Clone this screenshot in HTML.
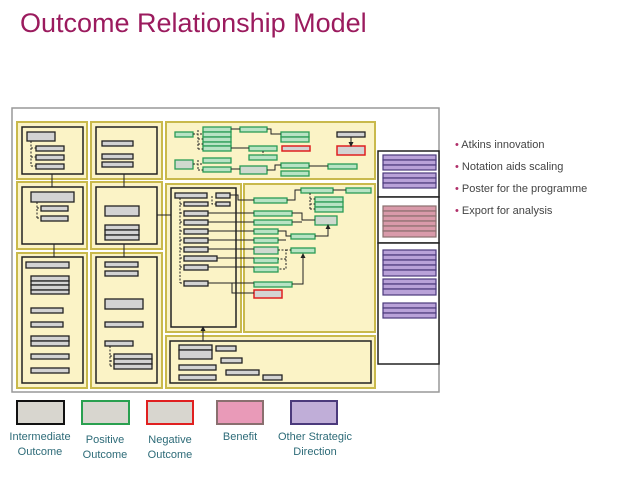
<!DOCTYPE html>
<html><head><meta charset="utf-8"><style>
body{margin:0;background:#fff;width:638px;height:479px;overflow:hidden;font-family:"Liberation Sans",sans-serif}
.t{position:absolute;left:20px;top:8px;font-size:27px;color:#9b1b5e}
.b{position:absolute;left:455px;font-size:11px;color:#444}
.b span{color:#b0306a}
.l{position:absolute;font-size:11px;color:#2d6b78;text-align:center;line-height:15px}
svg{position:absolute;left:0;top:0}
.y{fill:#fbf3c6;stroke:#c9b94c;stroke-width:2}
.k{fill:#fbf3c6;stroke:#222;stroke-width:1.5}
.g{fill:#d3d3d3;stroke:#222;stroke-width:1.3}
.n{fill:#b8e3c4;stroke:#2a9c55;stroke-width:1.3}
.ng{fill:#cfd9cf;stroke:#2a9c55;stroke-width:1.3}
.r{fill:#d3d3d3;stroke:#e02020;stroke-width:1.5}
.p{fill:#b9a2d8;stroke:#4b3a7c;stroke-width:1.2}
.q{fill:#d99aaa;stroke:#8a6f6f;stroke-width:1.2}
.c{stroke:#222;stroke-width:1;fill:none}
.d{stroke:#222;stroke-width:1;fill:none;stroke-dasharray:2,1.5}
</style></head><body>
<div class="t">Outcome Relationship Model</div>
<div class="b" style="top:139px"><span>•</span> Atkins innovation</div>
<div class="b" style="top:161px"><span>•</span> Notation aids scaling</div>
<div class="b" style="top:183px"><span>•</span> Poster for the programme</div>
<div class="b" style="top:205px"><span>•</span> Export for analysis</div>
<div class="l" style="left:0;width:80px;top:430px">Intermediate<br>Outcome</div>
<div class="l" style="left:70px;width:70px;top:433px">Positive<br>Outcome</div>
<div class="l" style="left:135px;width:70px;top:433px">Negative<br>Outcome</div>
<div class="l" style="left:205px;width:70px;top:430px">Benefit</div>
<div class="l" style="left:265px;width:100px;top:430px">Other Strategic<br>Direction</div>
<svg width="638" height="479" viewBox="0 0 638 479">
<defs><marker id="a" markerWidth="5" markerHeight="5" refX="4" refY="2.5" orient="auto"><path d="M0,0L5,2.5L0,5z" fill="#222"/></marker></defs>
<rect x="12" y="108" width="427" height="284" fill="#fff" stroke="#999" stroke-width="1.5"/>
<rect class="y" x="17" y="122" width="70" height="57"/>
<rect class="y" x="91" y="122" width="71" height="57"/>
<rect class="y" x="17" y="182" width="70" height="67"/>
<rect class="y" x="91" y="182" width="71" height="67"/>
<rect class="y" x="17" y="253" width="70" height="135"/>
<rect class="y" x="91" y="253" width="71" height="135"/>
<rect class="y" x="166" y="122" width="209" height="57"/>
<rect class="y" x="166" y="184" width="75" height="148"/>
<rect class="y" x="244" y="184" width="131" height="148"/>
<rect class="y" x="166" y="336" width="209" height="52"/>
<rect class="k" x="22" y="127" width="61" height="47"/>
<rect class="k" x="96" y="127" width="61" height="47"/>
<rect class="k" x="22" y="187" width="61" height="57"/>
<rect class="k" x="96" y="187" width="61" height="57"/>
<rect class="k" x="22" y="257" width="61" height="126"/>
<rect class="k" x="96" y="257" width="61" height="126"/>
<rect class="k" x="171" y="188" width="65" height="139"/>
<rect class="k" x="170" y="341" width="201" height="42"/>
<rect x="378" y="151" width="61" height="46" fill="#fff" stroke="#222" stroke-width="1.5"/>
<rect x="378" y="197" width="61" height="46" fill="#fff" stroke="#222" stroke-width="1.5"/>
<rect x="378" y="243" width="61" height="121" fill="#fff" stroke="#222" stroke-width="1.5"/>
<g class="p">
<rect x="383" y="155" width="53" height="5"/><rect x="383" y="160" width="53" height="5"/><rect x="383" y="165" width="53" height="5"/>
<rect x="383" y="173" width="53" height="5"/><rect x="383" y="178" width="53" height="5"/><rect x="383" y="183" width="53" height="5"/>
<rect x="383" y="250" width="53" height="5"/><rect x="383" y="255" width="53" height="5"/><rect x="383" y="260" width="53" height="5"/><rect x="383" y="265" width="53" height="5"/><rect x="383" y="270" width="53" height="6"/>
<rect x="383" y="279" width="53" height="5"/><rect x="383" y="284" width="53" height="5"/><rect x="383" y="289" width="53" height="6"/>
<rect x="383" y="303" width="53" height="5"/><rect x="383" y="308" width="53" height="5"/><rect x="383" y="313" width="53" height="5"/>
</g>
<g class="q">
<rect x="383" y="206" width="53" height="5"/><rect x="383" y="211" width="53" height="5"/><rect x="383" y="216" width="53" height="5"/><rect x="383" y="221" width="53" height="5"/><rect x="383" y="226" width="53" height="5"/><rect x="383" y="231" width="53" height="6"/>
</g>
<g class="g">
<rect x="27" y="132" width="28" height="9"/><rect x="36" y="146" width="28" height="5"/><rect x="36" y="155" width="28" height="5"/><rect x="36" y="164" width="28" height="5"/>
<rect x="102" y="141" width="31" height="5"/><rect x="102" y="154" width="31" height="5"/><rect x="102" y="162" width="31" height="5"/>
<rect x="31" y="192" width="43" height="10"/><rect x="41" y="206" width="27" height="5"/><rect x="41" y="216" width="27" height="5"/>
<rect x="105" y="206" width="34" height="10"/><rect x="105" y="225" width="34" height="5"/><rect x="105" y="230" width="34" height="5"/><rect x="105" y="235" width="34" height="5"/>
<rect x="26" y="262" width="43" height="6"/>
<rect x="31" y="276" width="38" height="5"/><rect x="31" y="281" width="38" height="4"/><rect x="31" y="285" width="38" height="5"/><rect x="31" y="290" width="38" height="4"/>
<rect x="31" y="308" width="32" height="5"/><rect x="31" y="322" width="32" height="5"/>
<rect x="31" y="336" width="38" height="5"/><rect x="31" y="341" width="38" height="5"/>
<rect x="31" y="354" width="38" height="5"/><rect x="31" y="368" width="38" height="5"/>
<rect x="105" y="262" width="33" height="5"/><rect x="105" y="271" width="33" height="5"/>
<rect x="105" y="299" width="38" height="10"/><rect x="105" y="322" width="38" height="5"/>
<rect x="105" y="341" width="28" height="5"/>
<rect x="114" y="354" width="38" height="5"/><rect x="114" y="359" width="38" height="5"/><rect x="114" y="364" width="38" height="5"/>
</g>
<path class="d" d="M31,141V166M31,148H36M31,157H36M31,166H36M37,202V218M37,208H41M37,218H41M110,346V366M110,356H114M110,361H114M110,366H114"/>
<path class="c" marker-end="url(#a)" d="M52,174V187M124,174V187M54,257V244M124,257V244M157,215H171M203,341V327"/>
<g class="n">
<rect x="175" y="132" width="18" height="5"/>
<rect x="203" y="127" width="28" height="5"/><rect x="203" y="132" width="28" height="5"/><rect x="203" y="137" width="28" height="5"/><rect x="203" y="142" width="28" height="4"/><rect x="203" y="146" width="28" height="5"/>
<rect x="240" y="127" width="27" height="5"/>
<rect x="281" y="132" width="28" height="5"/><rect x="281" y="137" width="28" height="5"/>
<rect x="249" y="146" width="28" height="5"/><rect x="249" y="155" width="28" height="5"/>
<rect x="203" y="158" width="28" height="5"/><rect x="203" y="167" width="28" height="5"/>
<rect x="281" y="163" width="28" height="5"/><rect x="281" y="171" width="28" height="5"/>
<rect x="328" y="164" width="29" height="5"/>
</g>
<rect class="ng" x="175" y="160" width="18" height="9"/>
<rect class="ng" x="240" y="166" width="27" height="8"/>
<rect class="r" x="282" y="146" width="28" height="5" fill="#d8c8c8"/>
<rect class="g" x="337" y="132" width="28" height="5"/>
<rect class="r" x="337" y="146" width="28" height="9"/>
<path class="d" d="M198,130V149M193,134H203M198,139H203M198,144H203M198,149H203M198,160V170M193,164H203M198,170H203M263,151V155"/>
<path class="c" marker-end="url(#a)" d="M231,129H240M267,129H271V134H281M231,148H249M231,169H240M267,170H275V165H281M309,166H328M351,137V146"/>
<g class="g">
<rect x="175" y="193" width="32" height="5"/><rect x="216" y="193" width="14" height="5"/>
<rect x="184" y="202" width="24" height="4"/><rect x="216" y="202" width="14" height="4"/>
<rect x="184" y="211" width="24" height="5"/><rect x="184" y="220" width="24" height="5"/><rect x="184" y="229" width="24" height="5"/><rect x="184" y="238" width="24" height="5"/><rect x="184" y="247" width="24" height="5"/><rect x="184" y="256" width="33" height="5"/><rect x="184" y="265" width="24" height="5"/><rect x="184" y="281" width="24" height="5"/>
</g>
<path class="d" d="M180,198V283M180,204H184M180,213H184M180,222H184M180,231H184M180,240H184M180,249H184M180,258H184M180,267H184M180,283H184M212,196V204H216"/>
<g class="n">
<rect x="254" y="198" width="33" height="5"/><rect x="301" y="188" width="32" height="5"/><rect x="346" y="188" width="25" height="5"/>
<rect x="315" y="197" width="28" height="5"/><rect x="315" y="202" width="28" height="5"/><rect x="315" y="207" width="28" height="5"/>
<rect x="254" y="211" width="38" height="5"/><rect x="254" y="220" width="38" height="5"/>
<rect x="254" y="229" width="24" height="5"/><rect x="254" y="238" width="24" height="5"/>
<rect x="291" y="234" width="24" height="5"/><rect x="291" y="248" width="24" height="5"/>
<rect x="254" y="258" width="24" height="5"/><rect x="254" y="267" width="24" height="5"/>
<rect x="254" y="282" width="38" height="5"/>
</g>
<rect class="ng" x="315" y="216" width="22" height="9"/>
<rect class="ng" x="254" y="247" width="24" height="7"/>
<rect class="r" x="254" y="290" width="28" height="8"/>
<path class="c" marker-end="url(#a)" d="M230,195H238V200H254M208,213H254M208,222H254M208,231H254M208,240H254M208,249H254M217,258H254M208,267H254M208,283H254M232,283V293H254M287,200H295V190H301M333,190H346M292,213H302V220H315M292,222H302M278,231H286V236H291M278,240H286M315,236H328V225"/>
<path class="c" marker-end="url(#a)" d="M292,284H303V254"/>
<path class="d" d="M310,193V209M310,199H315M310,204H315M310,209H315M278,250H286V269H278M286,259H278M286,250H291"/>
<g class="g">
<rect x="179" y="345" width="33" height="5"/><rect x="179" y="350" width="33" height="9"/><rect x="216" y="346" width="20" height="5"/>
<rect x="221" y="358" width="21" height="5"/><rect x="179" y="365" width="37" height="5"/><rect x="226" y="370" width="33" height="5"/>
<rect x="179" y="375" width="37" height="5"/><rect x="263" y="375" width="19" height="5"/>
</g>
<rect x="17" y="401" width="47" height="23" fill="#d8d6cf" stroke="#111" stroke-width="2"/>
<rect x="82" y="401" width="47" height="23" fill="#d8d6cf" stroke="#2aa050" stroke-width="2"/>
<rect x="147" y="401" width="46" height="23" fill="#d8d6cf" stroke="#e02020" stroke-width="2"/>
<rect x="217" y="401" width="46" height="23" fill="#e99ab8" stroke="#8a6f6f" stroke-width="2"/>
<rect x="291" y="401" width="46" height="23" fill="#c0aed8" stroke="#4b3a7c" stroke-width="2"/>
</svg>
</body></html>
